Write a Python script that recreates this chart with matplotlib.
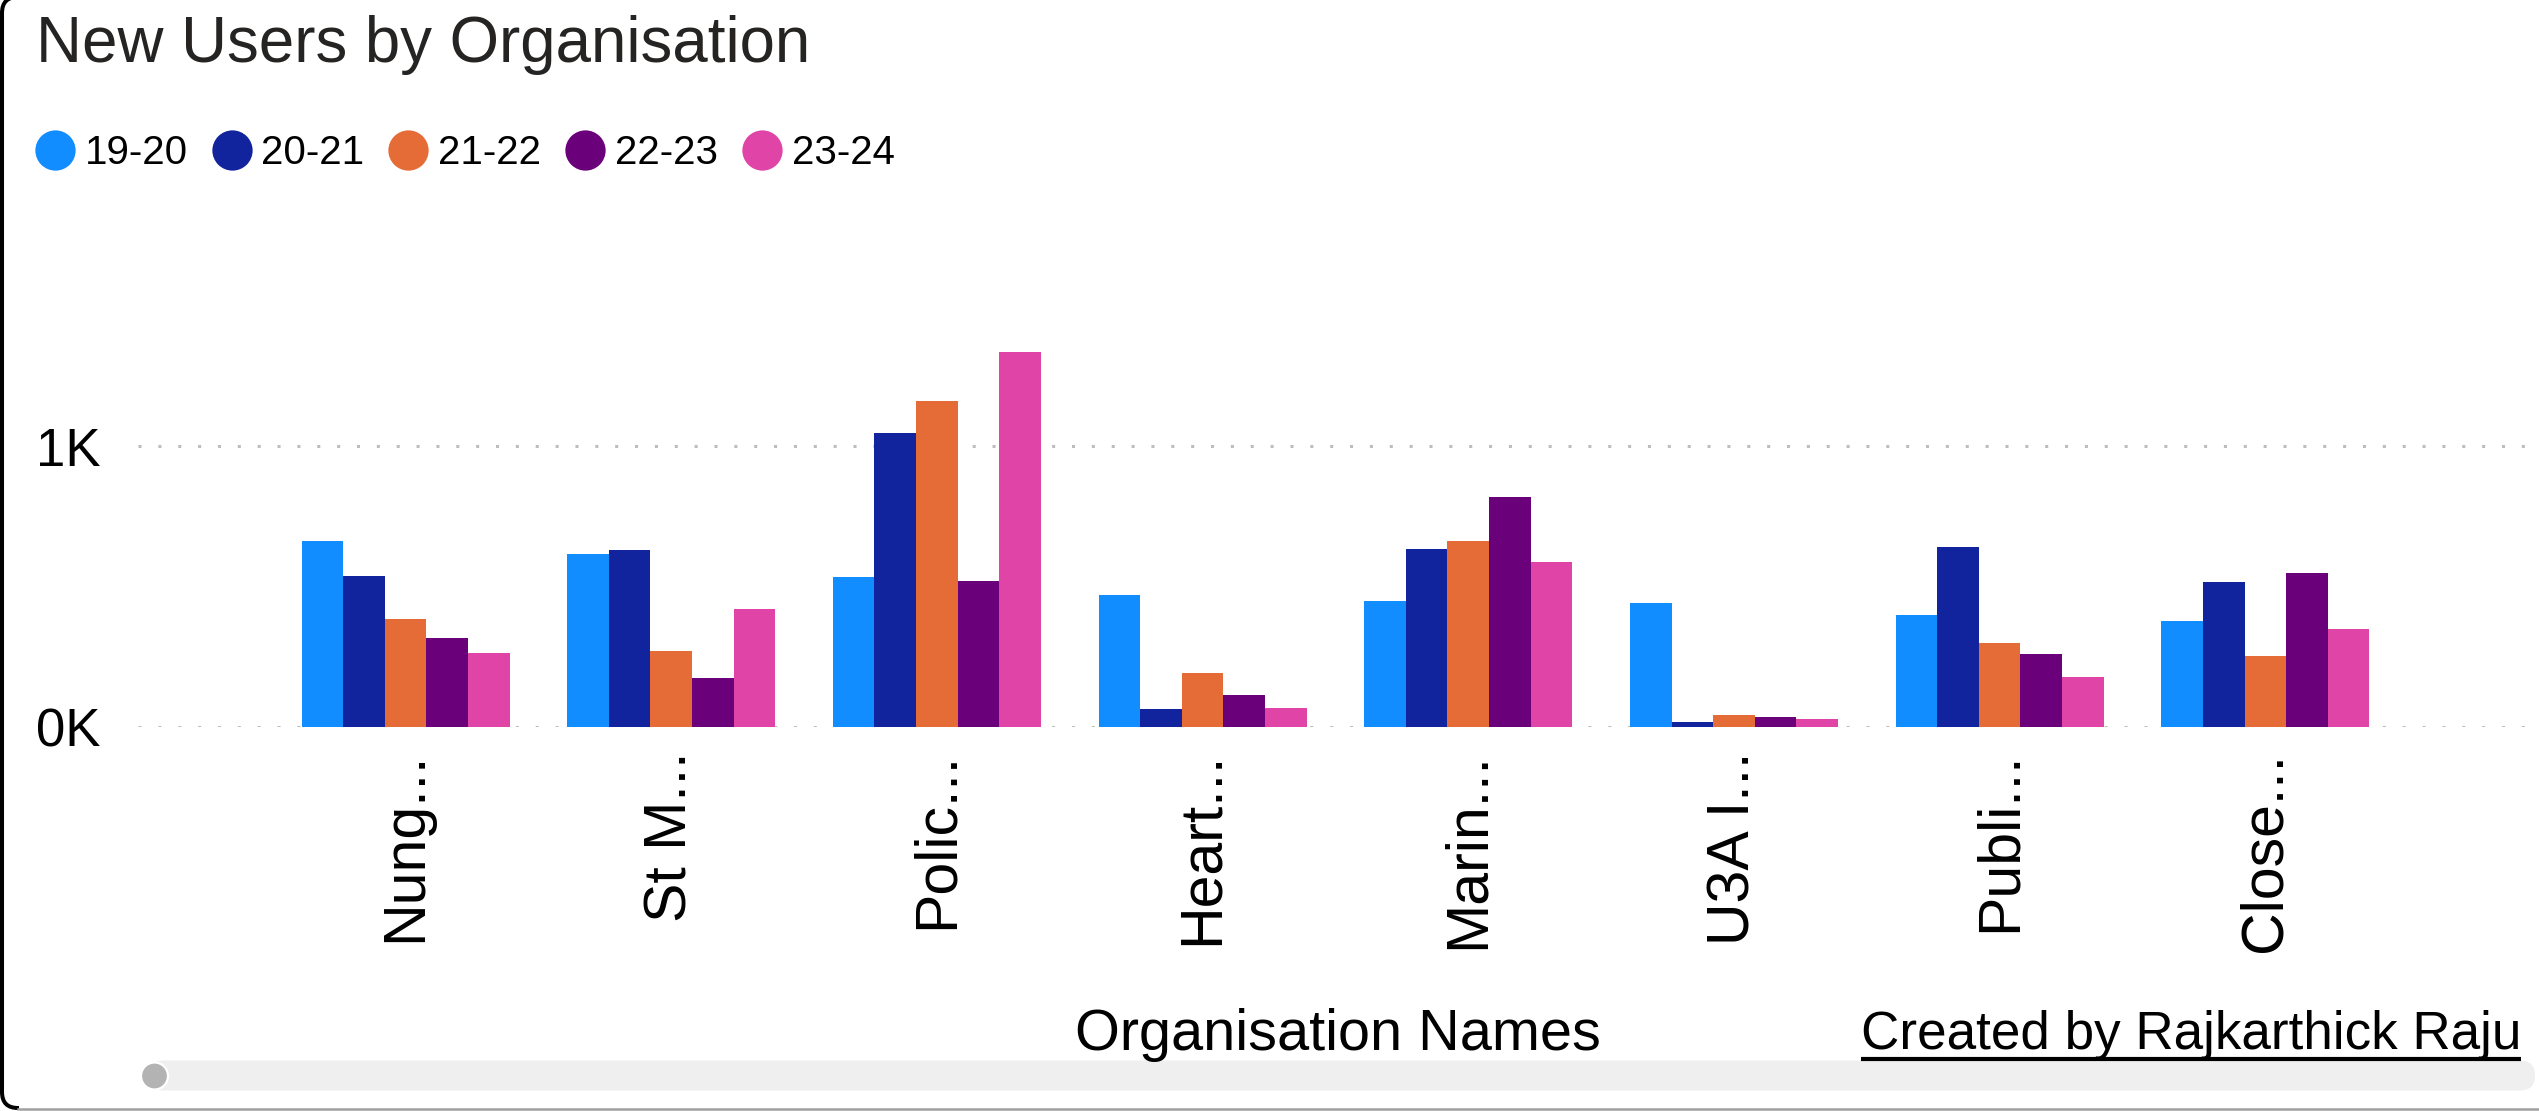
import matplotlib
matplotlib.use("Agg")
import matplotlib.pyplot as plt
import numpy as np
from matplotlib.lines import Line2D
from matplotlib.patches import FancyBboxPatch, Circle, Rectangle

plt.rcParams['font.family'] = ['Liberation Sans', 'DejaVu Sans']

# ---------------- data ----------------
categories = ["Nung...", "St M...", "Polic...", "Heart...", "Marin...", "U3A I...", "Publi...", "Close..."]
series_names = ["19-20", "20-21", "21-22", "22-23", "23-24"]
v_19_20 = [661, 617, 535, 471, 448, 442, 400, 378]
v_20_21 = [538, 631, 1047, 65, 635, 18, 639, 517]
v_21_22 = [385, 272, 1159, 193, 661, 44, 298, 254]
v_22_23 = [318, 176, 521, 115, 820, 37, 259, 547]
v_23_24 = [262, 421, 1333, 69, 588, 30, 177, 348]
y_ticks = [0, 1000]
y_tick_labels = ["0K", "1K"]
title = "New Users by Organisation"
x_title = "Organisation Names"
credit = "Created by Rajkarthick Raju"

series_values = [v_19_20, v_20_21, v_21_22, v_22_23, v_23_24]
colors = ["#118DFF", "#12239E", "#E66C37", "#6B007B", "#E044A7"]

# ---------------- figure ----------------
W, H = 2539, 1111
fig = plt.figure(figsize=(W / 100, H / 100), dpi=100)
fig.patch.set_facecolor("white")

# overlay axes in pixel coordinates for decorations
ov = fig.add_axes([0, 0, 1, 1], zorder=-1)
ov.set_xlim(0, W)
ov.set_ylim(H, 0)
ov.axis("off")

# main axes
ax_left, ax_right, y0_px, y1k_px = 138, 2531, 727, 446
ymax = 1500
ax_h = (y0_px - y1k_px) * ymax / 1000
ax = fig.add_axes([ax_left / W, (H - y0_px) / H, (ax_right - ax_left) / W, ax_h / H])
ax.patch.set_alpha(0)

n = len(categories)
x = np.arange(n)
group_frac = 0.783
bw = group_frac / len(series_values)
for i, (vals, c, name) in enumerate(zip(series_values, colors, series_names)):
    ax.bar(x + (i - 2) * bw, vals, width=bw, color=c, label=name, zorder=3, linewidth=0)

ax.set_xlim(-1.007, 8.0)
ax.set_ylim(0, ymax)
ax.set_yticks(y_ticks)
ax.set_yticklabels(y_tick_labels)
ax.set_xticks(x)
ax.set_xticklabels(categories, rotation=90, ha="center", va="top")
ax.tick_params(axis="x", length=0, pad=18, labelsize=42.5, labelcolor="black")
ax.tick_params(axis="y", length=0, pad=27, labelsize=38, labelcolor="black")
for s in ax.spines.values():
    s.set_visible(False)
ax.yaxis.grid(True, color="#bdbdbd", linestyle=(0, (1, 5.5)), linewidth=2.2, zorder=0)
ax.xaxis.grid(False)
ax.set_axisbelow(True)

# legend
handles = [Line2D([0], [0], marker="o", linestyle="", markersize=29, markeredgewidth=0, color=c)
           for c in colors]
ax.legend(handles, series_names, loc="center left", bbox_to_anchor=(35 / W, 1 - 153 / H),
          bbox_transform=fig.transFigure, ncol=5, frameon=False, fontsize=29,
          handlelength=0.98, handletextpad=0.25, columnspacing=0.6, borderpad=0,
          borderaxespad=0)

# title
ov.text(36, 62, title, fontsize=45.8, va="baseline", ha="left", color="#252423")

# x axis title
ov.text(1337.5, 1050, x_title, fontsize=41.5, va="baseline", ha="center", color="black")

# credit (underlined)
ct = ov.text(1861, 1049, credit, fontsize=38.2, va="baseline", ha="left", color="black")
fig.canvas.draw()
bb = ct.get_window_extent(renderer=fig.canvas.get_renderer())
inv = ov.transData.inverted()
(cx0, _), (cx1, _) = inv.transform([[bb.x0, bb.y0], [bb.x1, bb.y1]])
ov.plot([cx0, cx1], [1059, 1059], color="black", linewidth=3.0, solid_capstyle="butt")

# scrollbar
track = FancyBboxPatch((148, 1060.5), 2535 - 148, 30, boxstyle="round,pad=0,rounding_size=15",
                       facecolor="#efefef", edgecolor="none")
ov.add_patch(track)
ov.add_patch(Circle((154.5, 1076), 13.5, facecolor="#b3b3b3", edgecolor="white", linewidth=1.6))

# border (left side black, rounded corners; bottom gray)
border = FancyBboxPatch((2, -3), W + 100, 1108 + 3, boxstyle="round,pad=0,rounding_size=16",
                        facecolor="none", edgecolor="black", linewidth=2.9)
ov.add_patch(border)
clip = Rectangle((0, -20), 19, H + 40, transform=ov.transData)
border.set_clip_path(clip)
ov.plot([18, W], [1108.5, 1108.5], color="#a0a0a0", linewidth=1.8)

fig.savefig("out.png", dpi=100, facecolor="white")
